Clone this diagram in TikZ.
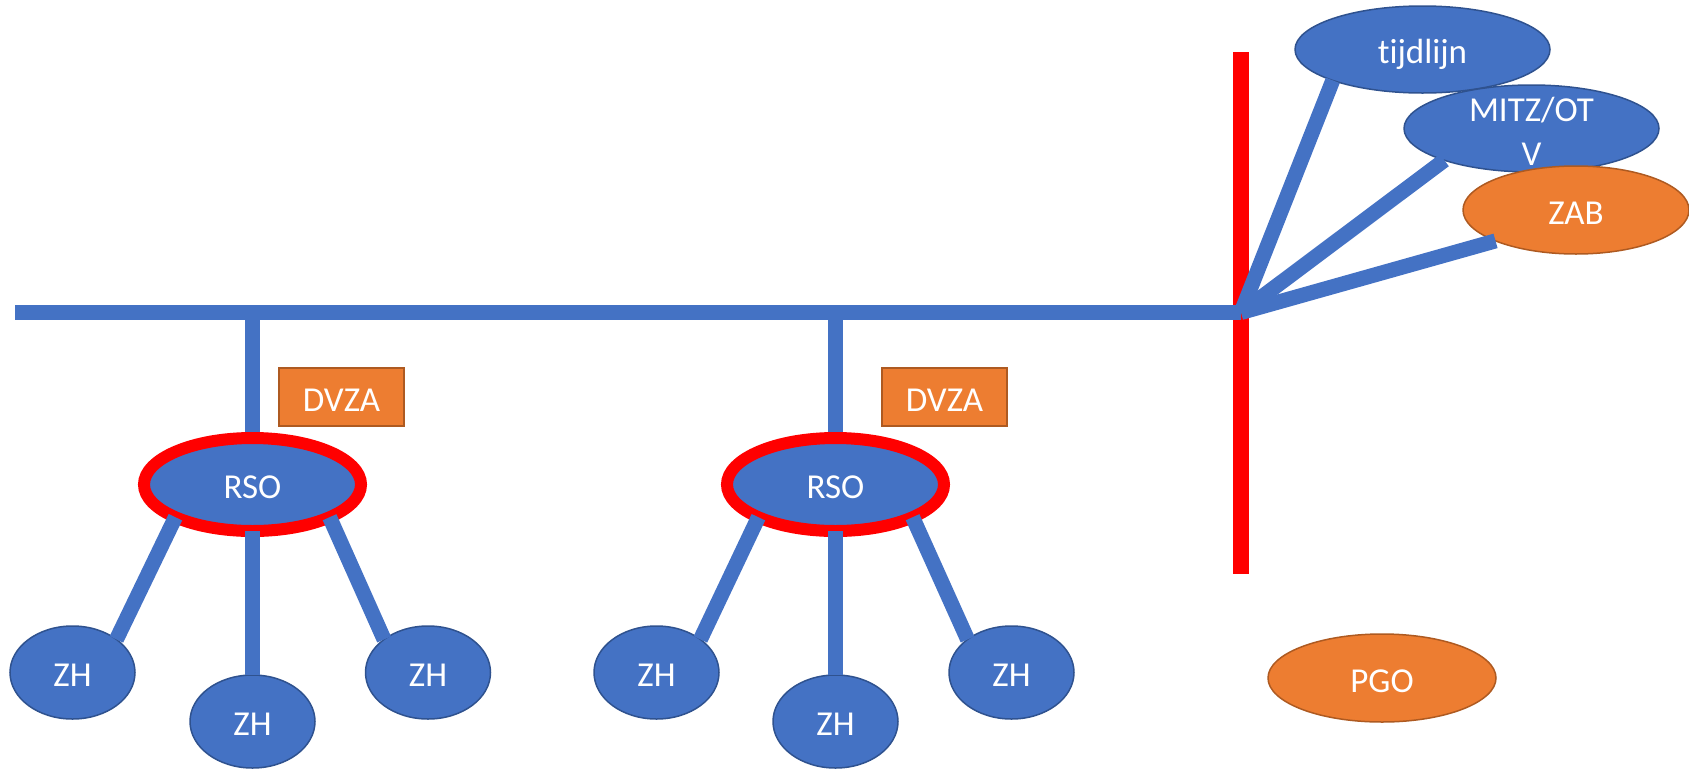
\documentclass[tikz,border=0pt]{standalone}
\usepackage{fontspec}
\setmainfont{Carlito}[Ligatures=NoCommon]
\usepackage{tikz}
\usetikzlibrary{shapes.geometric}
\definecolor{zhblue}{HTML}{4472C4}
\definecolor{zhedge}{HTML}{2F528F}
\definecolor{dvzaorange}{HTML}{ED7D31}
\definecolor{dvzaedge}{HTML}{AE5A21}

\begin{document}
\begin{tikzpicture}[x=10pt,y=10pt]
\tikzstyle{every node}+=[inner sep=0pt, outer sep=0pt, text=white, font=\fontsize{35}{44}\selectfont, text height=30pt, text depth=2pt]
\tikzstyle{zhnode}=[ellipse, draw=zhedge, line width=1.5pt, fill=zhblue, minimum width=125pt, minimum height=93pt]
\tikzstyle{rsonode}=[ellipse, draw=red, line width=12pt, fill=zhblue, minimum width=217pt, minimum height=93pt]
\tikzstyle{dvzabox}=[rectangle, draw=dvzaedge, line width=1.5pt, fill=dvzaorange, minimum width=125pt, minimum height=58pt]
\tikzstyle{topnode}=[ellipse, draw=zhedge, line width=1.5pt, fill=zhblue, minimum width=255pt, minimum height=87pt]
\tikzstyle{orangenode}=[ellipse, draw=dvzaedge, line width=1.5pt, fill=dvzaorange, minimum height=88pt]
\tikzstyle{bluelink}=[draw=zhblue, line width=15pt]
\tikzstyle{redbar}=[draw=red, line width=16pt]
\useasboundingbox (0,0) rectangle (168.9,-76.9);
% first group
\node [zhnode] (zhA1) at (7.25,-67.25) {ZH};
\node [zhnode] (zhB1) at (25.25,-72.15) {ZH};
\node [zhnode] (zhC1) at (42.8,-67.25) {ZH};
\node [rsonode] (rso1) at (25.25,-48.45) {RSO};
\node [dvzabox] (dvza1) at (34.15,-39.7) {DVZA};
% second group
\node [zhnode] (zhA2) at (65.65,-67.25) {ZH};
\node [zhnode] (zhB2) at (83.55,-72.15) {ZH};
\node [zhnode] (zhC2) at (101.15,-67.25) {ZH};
\node [rsonode] (rso2) at (83.55,-48.45) {RSO};
\node [dvzabox] (dvza2) at (94.45,-39.7) {DVZA};
% right side
\node [topnode] (tijd) at (142.25,-4.95) {tijdlijn};
\node [topnode, label={[align=center, text height={}, text depth={}, yshift=-3pt]center:MITZ/OT\\V}] (mitz) at (153.15,-12.85) {};
\node [orangenode, minimum width=226pt] (zab) at (157.6,-21.0) {ZAB};
\node [orangenode, minimum width=228pt] (pgo) at (138.2,-67.8) {PGO};
\coordinate (barL) at (1.5,-31.25);
\coordinate (hub) at (124.1,-31.25);
\coordinate (redT) at (124.1,-5.2);
\coordinate (redB) at (124.1,-57.4);
\coordinate (tap1) at (25.25,-31.25);
\coordinate (tap2) at (83.55,-31.25);
\draw [redbar] (redT) -- (redB);
\draw [bluelink] (barL) -- (hub);
\draw [bluelink, shorten >=6pt] (tap1) -- (rso1.north);
\draw [bluelink, shorten >=6pt] (tap2) -- (rso2.north);
\draw [bluelink] (hub) -- (tijd.199);
\draw [bluelink] (hub) -- (mitz.200);
\draw [bluelink] (hub) -- (zab.201);
\draw [bluelink] (rso1.203) -- (zhA1.37);
\draw [bluelink] (rso1.south) -- (zhB1.north);
\draw [bluelink] (rso1.337) -- (zhC1.143);
\draw [bluelink] (rso2.203) -- (zhA2.37);
\draw [bluelink] (rso2.south) -- (zhB2.north);
\draw [bluelink] (rso2.337) -- (zhC2.143);
\end{tikzpicture}
\end{document}
